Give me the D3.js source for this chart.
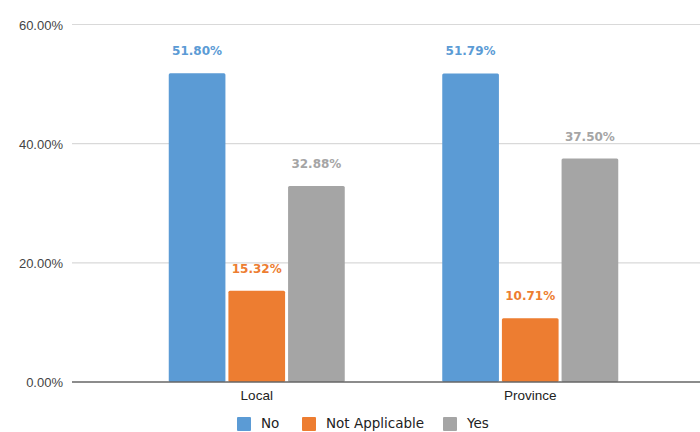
<!DOCTYPE html>
<html>
<head>
<meta charset="utf-8">
<script src="https://cdn.jsdelivr.net/npm/d3@7"></script>
<style>
  html, body { margin: 0; padding: 0; background: #fff; }
  svg { display: block; font-family: "DejaVu Sans", Arial, sans-serif; }
</style>
</head>
<body>
<svg id="chart" width="700" height="432"></svg>
<script>
// Survey response shares by level of government
const categories = ["Local", "Province"];
const seriesNames = ["No", "Not Applicable", "Yes"];
const noValues = [51.80, 51.79];
const notApplicableValues = [15.32, 10.71];
const yesValues = [32.88, 37.50];
const yTicks = [0, 20, 40, 60];
const seriesColors = ["#5b9bd5", "#ed7d31", "#a5a5a5"];

const seriesValues = [noValues, notApplicableValues, yesValues];
const rows = categories.map((c, i) => ({
  category: c,
  values: seriesNames.map((s, j) => ({ series: s, value: seriesValues[j][i], idx: j }))
}));

const svg = d3.select("#chart");
const gridLeft = 72, gridRight = 700;

const x0 = d3.scaleBand().domain(categories).range([120, 667]).paddingInner(0).paddingOuter(0);
const x1 = d3.scaleBand().domain(seriesNames).range([0, 176]).paddingInner(0.05);
const y = d3.scaleLinear().domain([0, 60]).range([382, 24.5]);

// Horizontal gridlines
svg.append("g").selectAll("line")
  .data(yTicks.filter(t => t !== 0))
  .join("line")
  .attr("x1", gridLeft).attr("x2", gridRight)
  .attr("y1", d => y(d)).attr("y2", d => y(d))
  .attr("stroke", "#d9d9d9").attr("stroke-width", 1.2);

// Y axis tick labels
const yAxis = d3.axisLeft(y).tickValues(yTicks).tickSize(0).tickPadding(0)
  .tickFormat(d => d3.format(".2f")(d) + "%");
svg.append("g")
  .attr("transform", "translate(63,0)")
  .call(yAxis)
  .call(g => g.select(".domain").remove())
  .call(g => g.selectAll("text")
    .attr("fill", "#444").attr("font-size", 13).attr("dy", "0.35em"));

// Bars
const groups = svg.append("g").selectAll("g")
  .data(rows)
  .join("g")
  .attr("transform", d => `translate(${x0(d.category) + (x0.bandwidth() - 176) / 2},0)`);

groups.selectAll("rect")
  .data(d => d.values)
  .join("rect")
  .attr("x", d => x1(d.series))
  .attr("y", d => y(d.value))
  .attr("width", x1.bandwidth())
  .attr("height", d => y(0) - y(d.value))
  .attr("rx", 1.5)
  .attr("fill", d => seriesColors[d.idx]);

// Value labels above bars
groups.selectAll("text")
  .data(d => d.values)
  .join("text")
  .attr("x", d => x1(d.series) + x1.bandwidth() / 2)
  .attr("y", d => y(d.value) - 18)
  .attr("text-anchor", "middle")
  .attr("font-size", 12)
  .attr("font-weight", "bold")
  .attr("fill", d => seriesColors[d.idx])
  .text(d => d3.format(".2f")(d.value) + "%");

// Baseline
svg.append("line")
  .attr("x1", gridLeft).attr("x2", gridRight)
  .attr("y1", y(0)).attr("y2", y(0))
  .attr("stroke", "#666").attr("stroke-width", 1.6);

// Category axis labels
const xAxis = d3.axisBottom(x0).tickSize(0).tickPadding(0);
svg.append("g")
  .attr("transform", `translate(0,${y(0)})`)
  .call(xAxis)
  .call(g => g.select(".domain").remove())
  .call(g => g.selectAll("text")
    .attr("fill", "#222").attr("font-size", 13.5).attr("dy", "18"));

// Legend
const legendItems = [
  { name: seriesNames[0], x: 237 },
  { name: seriesNames[1], x: 302 },
  { name: seriesNames[2], x: 443 }
];
const legend = svg.append("g").selectAll("g")
  .data(legendItems)
  .join("g")
  .attr("transform", d => `translate(${d.x},417)`);
legend.append("rect")
  .attr("width", 14).attr("height", 14).attr("rx", 1)
  .attr("fill", (d, i) => seriesColors[i]);
legend.append("text")
  .attr("x", 24).attr("y", 6).attr("dy", "0.35em")
  .attr("font-size", 13.5).attr("fill", "#222")
  .text(d => d.name);
</script>
</body>
</html>
